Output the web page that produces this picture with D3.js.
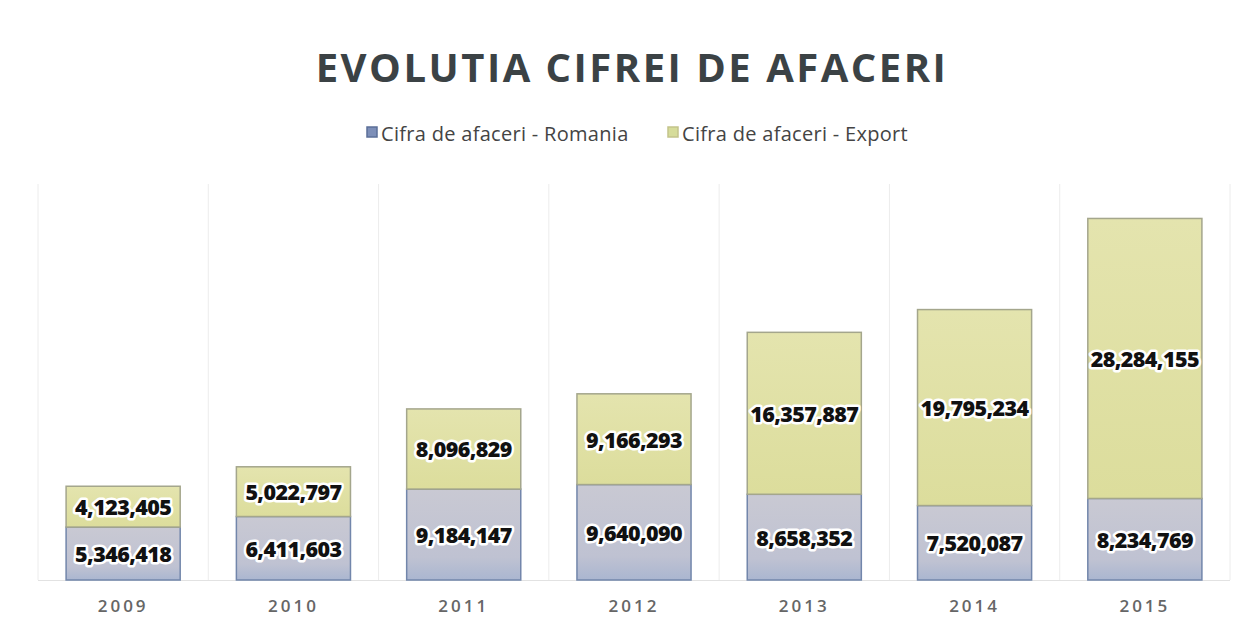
<!DOCTYPE html>
<html><head><meta charset="utf-8">
<script src="https://cdn.jsdelivr.net/npm/d3@7"></script>
<style>
html,body{margin:0;padding:0;background:#fff;}
svg{display:block;}
</style></head>
<body>
<svg id="chart" width="1246" height="628"></svg>
<script>
const years = ["2009","2010","2011","2012","2013","2014","2015"];
const romania = [5346418, 6411603, 9184147, 9640090, 8658352, 7520087, 8234769];
const exportV = [4123405, 5022797, 8096829, 9166293, 16357887, 19795234, 28284155];
const seriesNames = ["Cifra de afaceri - Romania", "Cifra de afaceri - Export"];
const titleText = "EVOLUTIA CIFREI DE AFACERI";

const svg = d3.select("#chart");
const W = 1246, H = 628;
const m = {left: 38, right: 16, top: 184, bottom: 48};

const defs = svg.append("defs");
const gR = defs.append("linearGradient").attr("id","gR").attr("x1",0).attr("y1",0).attr("x2",0).attr("y2",1);
gR.append("stop").attr("offset","0%").attr("stop-color","#c9c9d3");
gR.append("stop").attr("offset","75%").attr("stop-color","#bfc2d2");
gR.append("stop").attr("offset","100%").attr("stop-color","#aab6d0");
const gE = defs.append("linearGradient").attr("id","gE").attr("x1",0).attr("y1",0).attr("x2",0).attr("y2",1);
gE.append("stop").attr("offset","0%").attr("stop-color","#e4e4ae");
gE.append("stop").attr("offset","100%").attr("stop-color","#dcdd9c");

const x = d3.scaleBand().domain(years).range([m.left, W - m.right]).paddingInner(0.33).paddingOuter(0.165);
const y = d3.scaleLinear().domain([0, 40000000]).range([H - m.bottom, m.top]);

const step = x.step();
const seps = d3.range(years.length + 1).map(i => m.left + i * step);
svg.append("g").selectAll("line").data(seps).join("line")
  .attr("x1", d => d).attr("x2", d => d)
  .attr("y1", m.top).attr("y2", y(0))
  .attr("stroke", "#ececec").attr("stroke-width", 1);

svg.append("line").attr("x1", m.left).attr("x2", W - m.right)
  .attr("y1", y(0)+0.5).attr("y2", y(0)+0.5).attr("stroke", "#e2e2e2");

const data = years.map((yr, i) => ({year: yr, r: romania[i], e: exportV[i]}));
const stack = d3.stack().keys(["r","e"])(data);
const fills = ["url(#gR)", "url(#gE)"];
const strokes = ["#7286ab", "#a4a68c"];

stack.forEach((s, si) => {
  svg.append("g").selectAll("rect").data(s).join("rect")
    .attr("x", d => x(d.data.year))
    .attr("y", d => y(d[1]))
    .attr("width", x.bandwidth())
    .attr("height", d => y(d[0]) - y(d[1]))
    .attr("fill", fills[si])
    .attr("stroke", strokes[si]).attr("stroke-width", 1.5);
});

const fmt = d3.format(",");
stack.forEach((s, si) => {
  const g = svg.append("g");
  const lab = g.selectAll("text").data(s).join("text")
    .attr("x", d => x(d.data.year) + x.bandwidth()/2)
    .attr("y", d => (y(d[0]) + y(d[1]))/2)
    .attr("text-anchor", "middle").attr("dominant-baseline", "central")
    .attr("font-family", "'Open Sans', sans-serif").attr("font-weight", 800)
    .attr("font-size", 21.5).attr("letter-spacing", -0.6)
    .text(d => fmt(d[1] - d[0]));
  lab.clone(true).lower().attr("fill","none").attr("stroke","#fff").attr("stroke-width",5).attr("stroke-linejoin","round");
  lab.attr("fill", "#111");
});

const xAxis = d3.axisBottom(x).tickSize(0).tickPadding(20);
const ax = svg.append("g").attr("transform", `translate(0,${y(0)})`).call(xAxis);
ax.select(".domain").remove();
ax.selectAll("text").attr("font-family","'Open Sans', sans-serif").attr("font-size",17)
  .attr("font-weight",600).attr("fill","#666").attr("letter-spacing", 3);

svg.append("text").attr("x", 632).attr("y", 82).attr("text-anchor","middle")
  .attr("font-family","'Open Sans', sans-serif").attr("font-weight",700)
  .attr("font-size",40).attr("letter-spacing",2.5).attr("fill","#3b4245")
  .text(titleText);

const legX = [367, 668];
const legColors = [["#7d8fb8","#5b6f98"],["#d6dc9a","#c3c38b"]];
seriesNames.forEach((n, i) => {
  svg.append("rect").attr("x", legX[i]).attr("y", 127).attr("width", 10).attr("height", 10)
    .attr("fill", legColors[i][0]).attr("stroke", legColors[i][1]).attr("stroke-width", 1.5);
  svg.append("text").attr("x", legX[i] + 14).attr("y", 133).attr("dominant-baseline","central")
    .attr("font-family","'Open Sans', sans-serif").attr("font-size",20).attr("fill","#444")
    .attr("letter-spacing", 0.3)
    .text(n);
});
</script>
</body></html>
